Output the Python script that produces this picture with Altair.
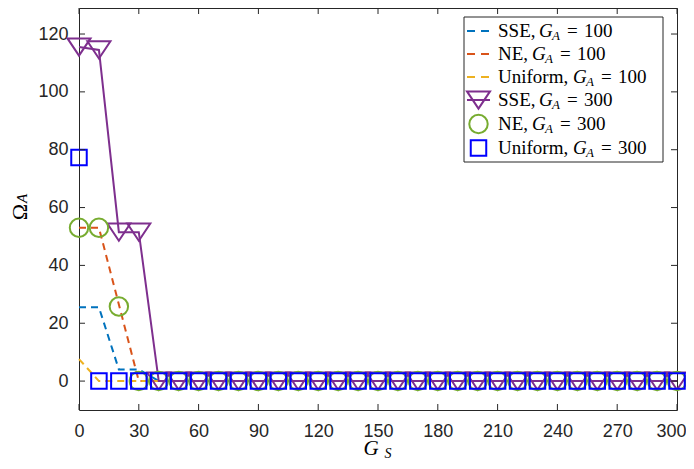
import altair as alt
import pandas as pd

# ---------------- data ----------------
G_S = [0, 10, 20, 30, 40, 50, 60, 70, 80, 90, 100, 110, 120, 130, 140, 150,
       160, 170, 180, 190, 200, 210, 220, 230, 240, 250, 260, 270, 280, 290, 300]

SSE_100 = [25.5, 25.5, 4.0, 4.0,
           0, 0, 0, 0, 0, 0, 0, 0, 0, 0, 0, 0, 0, 0, 0, 0, 0, 0, 0, 0, 0, 0, 0, 0, 0, 0, 0]
NE_100 = [53.0, 53.0, 26.5, 0,
          0, 0, 0, 0, 0, 0, 0, 0, 0, 0, 0, 0, 0, 0, 0, 0, 0, 0, 0, 0, 0, 0, 0, 0, 0, 0, 0]
UNI_100 = [7.6,
           0, 0, 0, 0, 0, 0, 0, 0, 0, 0, 0, 0, 0, 0, 0, 0, 0, 0, 0, 0, 0, 0, 0, 0, 0, 0, 0, 0, 0, 0]
SSE_300 = [115.5, 114.5, 51.5, 51.5,
           0, 0, 0, 0, 0, 0, 0, 0, 0, 0, 0, 0, 0, 0, 0, 0, 0, 0, 0, 0, 0, 0, 0, 0, 0, 0, 0]
NE_300 = [53.0, 53.0, 25.8, 0,
          0, 0, 0, 0, 0, 0, 0, 0, 0, 0, 0, 0, 0, 0, 0, 0, 0, 0, 0, 0, 0, 0, 0, 0, 0, 0, 0]
UNI_300 = [77.3,
           0, 0, 0, 0, 0, 0, 0, 0, 0, 0, 0, 0, 0, 0, 0, 0, 0, 0, 0, 0, 0, 0, 0, 0, 0, 0, 0, 0, 0, 0]

X_TICKS = [0, 30, 60, 90, 120, 150, 180, 210, 240, 270, 300]
Y_TICKS = [0, 20, 40, 60, 80, 100, 120]

LEGEND_PREFIX = ["SSE,", "NE,", "Uniform,", "SSE,", "NE,", "Uniform,"]
LEGEND_GA = ["100", "100", "100", "300", "300", "300"]

SERIES = {
    "sse100": SSE_100, "ne100": NE_100, "uni100": UNI_100,
    "sse300": SSE_300, "ne300": NE_300, "uni300": UNI_300,
}

# ---------------- styling ----------------
W, H = 598, 402
SANS = "Liberation Sans"
SERIF = "Liberation Serif"
AX = "#262626"
C_BLUE = "#0072BD"
C_ORANGE = "#D95319"
C_YELLOW = "#EDB120"
C_PURPLE = "#7E2F8E"
C_GREEN = "#77AC30"
C_SQ = "#0000FF"
TRI = "M-1,-0.75L1,-0.75L0,0.75Z"

rows = []
for name, vals in SERIES.items():
    assert len(vals) == len(G_S)
    for g, v in zip(G_S, vals):
        rows.append({"gs": g, "val": v, "s": name})
df = pd.DataFrame(rows)

LAST_X = "datum.value == 300"
xs = alt.Scale(domain=[0, 300], nice=False, zero=False)
ys = alt.Scale(domain=[-10, 129], nice=False, zero=False)
x_enc = alt.X("gs:Q", scale=xs, title=None,
              axis=alt.Axis(values=X_TICKS, tickSize=0, domain=False, grid=False,
                            labelFont=SANS, labelFontSize=18, labelColor=AX,
                            labelPadding=12, labelFlush=False, labelOverlap=False,
                            labelAlign=alt.condition(LAST_X, alt.value("right"), alt.value("center")),
                            labelOffset=alt.condition(LAST_X, alt.value(9), alt.value(0))))
y_enc = alt.Y("val:Q", scale=ys, title=None,
              axis=alt.Axis(values=Y_TICKS, tickSize=0, domain=False, grid=False,
                            labelFont=SANS, labelFontSize=18, labelColor=AX,
                            labelPadding=11, labelFlush=False, labelOverlap=False))

base = alt.Chart(df)


def sub(name):
    return base.transform_filter(alt.datum.s == name)


layers = []
layers.append(sub("sse100").mark_line(color=C_BLUE, strokeDash=[7, 5], strokeWidth=2).encode(x=x_enc, y=y_enc))
layers.append(sub("ne100").mark_line(color=C_ORANGE, strokeDash=[7, 5], strokeWidth=2).encode(x=x_enc, y=y_enc))
layers.append(sub("uni100").mark_line(color=C_YELLOW, strokeDash=[7, 5], strokeWidth=2).encode(x=x_enc, y=y_enc))
layers.append(sub("sse300").mark_line(color=C_PURPLE, strokeWidth=2).encode(x=x_enc, y=y_enc))
layers.append(sub("sse300").mark_point(shape=TRI, size=529, filled=False, color=C_PURPLE,
                                       strokeWidth=2, opacity=1).encode(x=x_enc, y=y_enc))
layers.append(sub("ne300").mark_point(shape="circle", size=340, filled=False, color=C_GREEN,
                                      strokeWidth=2, opacity=1).encode(x=x_enc, y=y_enc))
layers.append(sub("uni300").mark_point(shape="square", size=240, filled=False, color=C_SQ,
                                       strokeWidth=2, opacity=1).encode(x=x_enc, y=y_enc))

# inward ticks on all four sides
xt = alt.Chart(pd.DataFrame({"gs": X_TICKS}))
yt = alt.Chart(pd.DataFrame({"val": Y_TICKS}))
TL = 6
layers.append(xt.mark_rule(color=AX, strokeWidth=1).encode(x=x_enc, y=alt.value(H), y2=alt.value(H - TL)))
layers.append(xt.mark_rule(color=AX, strokeWidth=1).encode(x=x_enc, y=alt.value(0), y2=alt.value(TL)))
layers.append(yt.mark_rule(color=AX, strokeWidth=1).encode(y=y_enc, x=alt.value(0), x2=alt.value(TL)))
layers.append(yt.mark_rule(color=AX, strokeWidth=1).encode(y=y_enc, x=alt.value(W), x2=alt.value(W - TL)))

# ---------------- legend (drawn by hand) ----------------
ONE = pd.DataFrame({"k": [0]})
one = alt.Chart(ONE)
layers.append(one.mark_rect(fill="white", stroke=AX, strokeWidth=1).encode(
    x=alt.value(385), x2=alt.value(584), y=alt.value(9), y2=alt.value(154)))

ROW_Y = [23, 46, 69, 92, 116, 140]
SYM_X0, SYM_X1 = 388, 411
SYM_XC = (SYM_X0 + SYM_X1) / 2
for yy, col in zip(ROW_Y[:3], [C_BLUE, C_ORANGE, C_YELLOW]):
    layers.append(one.mark_rule(color=col, strokeWidth=2, strokeDash=[8, 6]).encode(
        x=alt.value(SYM_X0), x2=alt.value(SYM_X1), y=alt.value(yy)))
layers.append(one.mark_rule(color=C_PURPLE, strokeWidth=2).encode(
    x=alt.value(SYM_X0), x2=alt.value(SYM_X1), y=alt.value(ROW_Y[3])))
layers.append(one.mark_point(shape=TRI, size=529, filled=False, color=C_PURPLE, strokeWidth=2, opacity=1).encode(
    x=alt.value(SYM_XC), y=alt.value(ROW_Y[3])))
layers.append(one.mark_point(shape="circle", size=340, filled=False, color=C_GREEN, strokeWidth=2, opacity=1).encode(
    x=alt.value(SYM_XC), y=alt.value(ROW_Y[4])))
layers.append(one.mark_point(shape="square", size=240, filled=False, color=C_SQ, strokeWidth=2, opacity=1).encode(
    x=alt.value(SYM_XC), y=alt.value(ROW_Y[5])))


def txt(s, x, y, size=19, style=None, angle=None, align="left"):
    kw = dict(text=s, font=SERIF, fontSize=size, align=align, baseline="middle", color="black")
    if style:
        kw["fontStyle"] = style
    if angle is not None:
        kw["angle"] = angle
    return one.mark_text(**kw).encode(x=alt.value(x), y=alt.value(y))


TEXT_X = 419
G_X = {"SSE,": 460, "NE,": 453, "Uniform,": 494}
for yy, pre, ga in zip(ROW_Y, LEGEND_PREFIX, LEGEND_GA):
    gx = G_X[pre]
    layers.append(txt(pre, TEXT_X, yy))
    layers.append(txt("G", gx, yy, style="italic"))
    layers.append(txt("A", gx + 13, yy + 5, size=13, style="italic"))
    layers.append(txt("=", gx + 28, yy))
    layers.append(txt(ga, gx + 45, yy))

# ---------------- axis titles ----------------
layers.append(txt("Ω", -59.5, 204, size=22, angle=270, align="center"))
layers.append(txt("A", -57, 190.5, size=15, style="italic", angle=270, align="center"))
layers.append(txt("G", 292, 441, size=21, style="italic", align="center"))
layers.append(txt("S", 309, 445.5, size=14, style="italic", align="center"))

chart = alt.layer(*layers).properties(
    width=W, height=H,
    padding={"left": 71, "top": 0, "right": 9, "bottom": 51},
    autosize=alt.AutoSizeParams(type="none"),
).configure_view(stroke=AX, strokeWidth=1)

chart.save("out.html", embed_options={"renderer": "svg", "actions": False})
